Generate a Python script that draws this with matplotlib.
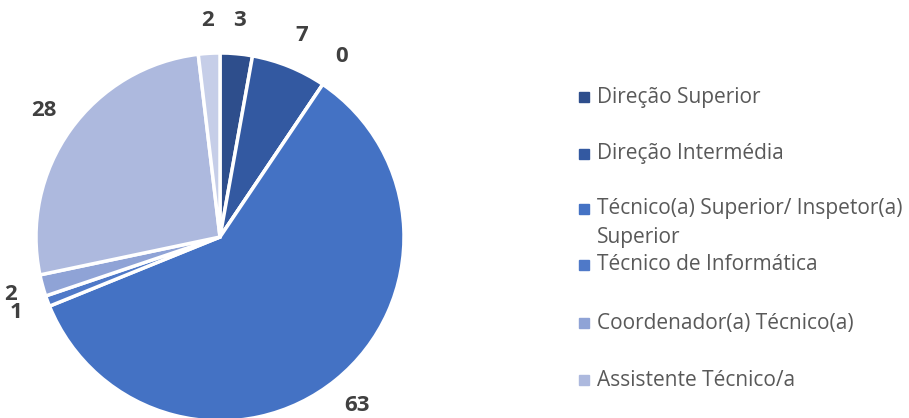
import numpy as np
import matplotlib.pyplot as plt
from matplotlib.patches import Rectangle

categorias = ['Direção Superior', 'Direção Intermédia', 'Inspetor(a)',
              'Técnico(a) Superior/ Inspetor(a)\nSuperior', 'Técnico de Informática',
              'Coordenador(a) Técnico(a)', 'Assistente Técnico/a', 'Assistente Operacional']
valores = [3, 7, 0, 63, 1, 2, 28, 2]
cores = ['#2E4E8C', '#3359A1', '#3D66B5', '#4472C4', '#4F79C8',
         '#8FA3D6', '#ADB9DE', '#C6CEE8']
# entradas visiveis na legenda (indices)
legenda_idx = [0, 1, 3, 4, 5, 6]

W, H = 909, 418
fig = plt.figure(figsize=(W / 100, H / 100), dpi=100)

cx, cy, r = 220, 237, 184
ax = fig.add_axes([(cx - r) / W, (H - cy - r) / H, 2 * r / W, 2 * r / H])

wedges, _ = ax.pie(valores, colors=cores, startangle=90, counterclock=False,
                   radius=1, wedgeprops=dict(edgecolor='white', linewidth=2.5))
ax.set_xlim(-1, 1)
ax.set_ylim(-1, 1)
ax.set_aspect('equal')
ax.axis('off')

for w, v in zip(wedges, valores):
    ang = np.deg2rad((w.theta1 + w.theta2) / 2)
    ax.text(1.18 * np.cos(ang), 1.18 * np.sin(ang), str(v),
            ha='center', va='center', fontsize=16, fontweight='bold',
            color='#404040', family='Open Sans', clip_on=False)

# legenda desenhada a direita (centro vertical de cada entrada, em px)
ys = [97, 154, 223, 265, 323, 380]
for i, y in zip(legenda_idx, ys):
    ysq = y - 14 if '\n' in categorias[i] else y
    fig.patches.append(Rectangle((579 / W, (H - ysq - 5) / H), 10 / W, 10 / H,
                                 transform=fig.transFigure, color=cores[i]))
    fig.text(597 / W, (H - y) / H, categorias[i], ha='left', va='center',
             fontsize=15, color='#595959', family='Open Sans',
             linespacing=1.45)

fig.savefig('out.png', dpi=100)
